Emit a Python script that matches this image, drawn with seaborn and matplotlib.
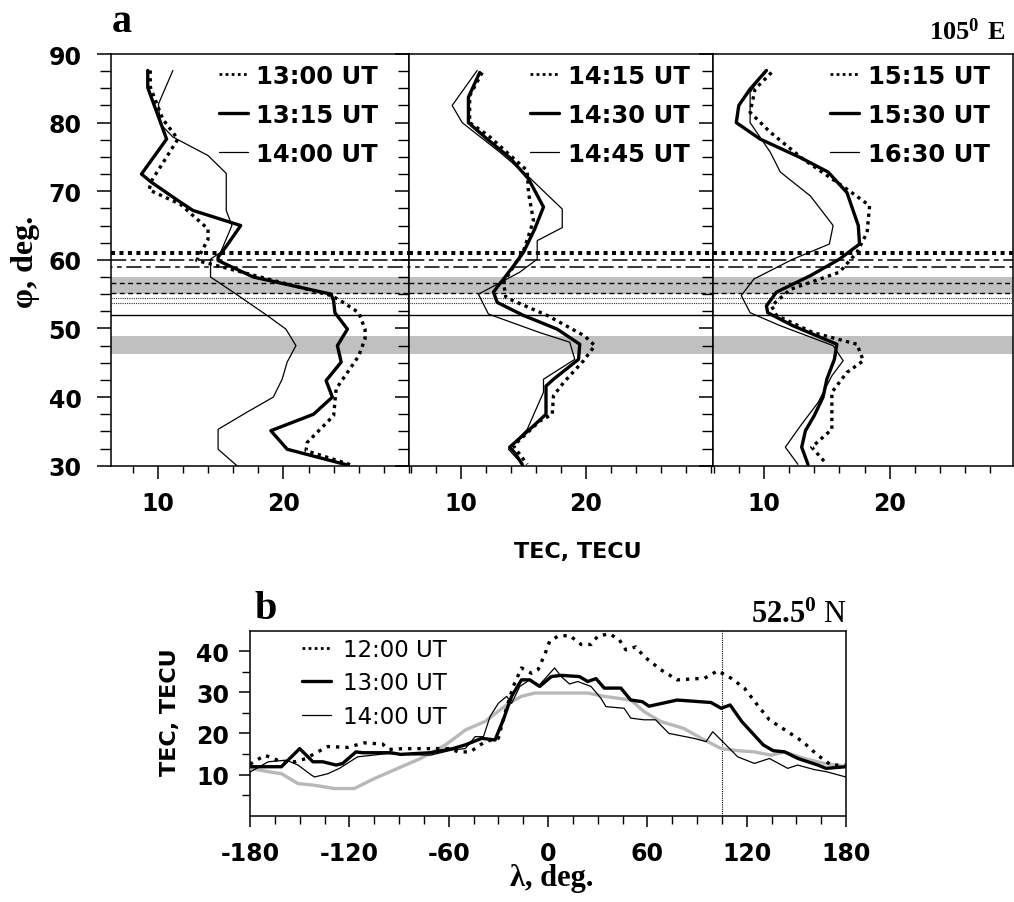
import matplotlib
matplotlib.use("Agg")
import matplotlib.pyplot as plt
from matplotlib.lines import Line2D
from matplotlib.ticker import MultipleLocator, FixedLocator
import pandas as pd
import seaborn as sns

# ---------------- data: panel a (latitude profiles of TEC along 105 E) ----------------
lat_1300 = [87.6, 85.2, 80.5, 77.6, 71.5, 70.2, 68.1, 64.5, 63.0, 59.9, 59.4, 54.8, 54.0, 52.3,
            49.9, 48.5, 46.0, 43.6, 41.2, 37.3, 33.4, 32.2, 30.0]
tec_1300 = [9.4, 9.4, 10.4, 11.6, 9.5, 9.3, 11.8, 14.0, 14.0, 13.1, 14.2, 23.8, 24.6, 26.0,
            26.5, 26.5, 26.0, 25.1, 24.2, 24.0, 21.9, 21.8, 25.6]
lat_1315 = [87.6, 85.1, 77.6, 72.5, 71.3, 68.4, 67.2, 65.0, 62.1, 60.4, 59.9, 57.5, 55.0, 54.0,
            52.3, 49.9, 47.5, 45.1, 42.4, 40.0, 37.5, 35.1, 32.4, 30.1]
tec_1315 = [9.2, 9.2, 10.7, 8.7, 9.5, 11.8, 12.8, 16.6, 15.5, 14.8, 14.8, 17.6, 23.8, 24.0,
            24.1, 25.1, 24.3, 24.6, 23.4, 23.9, 22.4, 19.0, 20.3, 25.1]
lat_1400 = [87.6, 82.7, 79.8, 77.9, 75.2, 72.6, 67.2, 65.0, 61.1, 60.1, 57.5, 55.3, 51.9, 49.9,
            47.5, 45.1, 42.6, 40.0, 37.8, 35.3, 32.4, 30.0]
tec_1400 = [11.2, 10.05, 10.2, 11.2, 14.0, 15.45, 15.45, 15.9, 15.0, 14.2, 14.2, 16.0, 18.7, 20.2,
            21.0, 20.3, 19.9, 19.2, 17.1, 14.8, 14.8, 16.3]

lat_1415 = [87.3, 83.9, 80.0, 78.1, 73.0, 69.8, 65.7, 61.3, 56.7, 54.5, 51.9, 48.9, 47.5, 45.3,
            42.1, 40.2, 37.5, 36.5, 32.9, 31.9, 30.2]
tec_1415 = [11.7, 10.7, 10.7, 12.2, 15.3, 15.4, 15.8, 15.0, 13.4, 13.6, 16.9, 19.9, 20.7, 19.8,
            18.2, 17.4, 17.3, 16.3, 14.2, 14.6, 15.3]
lat_1430 = [87.3, 83.7, 80.0, 77.6, 74.9, 71.8, 67.7, 64.5, 61.1, 59.1, 55.3, 53.8, 51.9, 49.9,
            47.7, 45.5, 42.6, 41.6, 37.5, 35.8, 32.7, 31.9, 30.2]
tec_1430 = [11.5, 10.6, 10.6, 12.1, 13.9, 15.4, 16.6, 15.9, 15.0, 14.2, 12.6, 12.9, 15.0, 17.7,
            19.5, 19.4, 17.4, 16.8, 16.8, 15.8, 13.9, 14.3, 14.9]
lat_1445 = [87.6, 82.5, 80.0, 75.7, 72.3, 67.4, 64.7, 62.8, 60.1, 58.2, 55.0, 52.1, 49.4, 48.0,
            45.5, 42.6, 40.7, 35.3, 32.4, 30.0]
tec_1445 = [11.3, 9.3, 10.1, 13.1, 15.3, 18.1, 18.1, 16.1, 16.1, 14.7, 11.4, 12.2, 16.3, 18.7,
            19.1, 16.6, 16.6, 15.3, 13.8, 15.0]

lat_1515 = [87.3, 84.9, 81.5, 78.6, 74.7, 70.3, 67.9, 64.0, 61.1, 58.2, 55.7, 53.3, 51.9, 49.4,
            47.7, 45.3, 43.6, 40.7, 35.3, 32.7, 30.2]
tec_1515 = [10.6, 9.3, 8.9, 10.5, 13.1, 16.6, 18.4, 18.2, 17.4, 16.0, 12.1, 10.6, 11.0, 13.9,
            17.4, 17.9, 16.6, 15.4, 15.4, 13.8, 15.0]
lat_1530 = [87.6, 84.9, 82.5, 80.0, 77.6, 74.9, 72.8, 69.8, 65.0, 62.3, 60.1, 57.7, 55.3, 53.3,
            52.3, 50.4, 47.7, 45.5, 42.6, 40.0, 37.3, 35.1, 32.7, 30.2]
tec_1530 = [10.2, 8.9, 8.0, 7.8, 9.7, 12.9, 15.1, 16.6, 17.5, 17.6, 16.0, 13.7, 11.0, 10.2,
            10.3, 12.3, 15.8, 15.6, 15.0, 14.7, 14.0, 13.3, 13.0, 13.5]
lat_1630 = [87.6, 84.4, 80.0, 75.7, 72.8, 69.3, 65.0, 62.3, 60.1, 57.2, 54.8, 52.3, 50.4, 47.5,
            45.3, 43.1, 39.2, 35.8, 32.7, 30.2]
tec_1630 = [10.1, 8.9, 8.9, 10.5, 11.3, 13.7, 15.5, 15.2, 12.3, 9.2, 8.2, 8.9, 11.3, 15.5,
            16.3, 15.4, 14.3, 12.9, 11.7, 12.7]

labels_a = [["13:00 UT", "13:15 UT", "14:00 UT"],
            ["14:15 UT", "14:30 UT", "14:45 UT"],
            ["15:15 UT", "15:30 UT", "16:30 UT"]]

# reference latitudes marked across panel a
band_upper = (55.0, 57.5)
band_lower = (46.3, 48.9)
lat_heavy_dot = 61.0
lat_dashdot = [60.0, 58.9]
lat_dashed = [56.6, 55.2]
lat_fine_dot = [54.4, 53.75]
lat_solid = 52.0

# ---------------- data: panel b (longitude profiles along 52.5 N) ----------------
lon_1200 = [-180, -171, -161, -153, -146, -141, -133, -121, -111, -100, -96, -87, -60, -54, -47,
            -38, -30, -26, -21, -16, -10, -6, -2, 1, 6, 13, 20, 26, 30, 37, 43, 47, 53, 58, 68,
            78, 94.5, 102.5, 110.6, 118.6, 125.7, 133.7, 144.8, 153.8, 162.9, 171, 180]
tec_1200 = [12.5, 14.7, 13.1, 13.1, 13.9, 15.1, 16.8, 16.6, 17.7, 17.4, 16.1, 16.3, 16.3, 15.5, 15.5,
            18.0, 18.8, 24.9, 31.4, 35.9, 34.6, 35.5, 39.1, 42.4, 43.6, 43.8, 41.6, 41.6, 43.6, 44.2,
            42.8, 40.3, 41.0, 38.7, 35.5, 33.0, 33.4, 35.2, 33.4, 31.0, 27.3, 23.3, 20.4, 18.0,
            14.7, 12.3, 12.3]
lon_b1300 = [-180, -161, -150, -142, -136, -128, -124, -116, -112, -95, -89, -71, -57.5, -50, -40,
             -32, -27, -22, -16, -11, -5, 2, 8, 19, 24, 29, 34, 44, 50, 57, 61, 78, 98.5, 104.6,
             110, 117, 130, 136, 143, 151, 163, 168, 180]
tec_b1300 = [11.9, 11.9, 16.3, 13.1, 13.1, 12.3, 12.7, 15.5, 15.3, 15.3, 14.9, 15.3, 16.3, 17.2, 18.8,
             18.4, 23.3, 29.0, 33.0, 33.0, 31.4, 33.8, 34.1, 33.8, 32.6, 33.3, 31.0, 31.0, 28.1,
             27.7, 26.6, 28.1, 27.5, 26.1, 26.9, 22.9, 17.2, 15.8, 15.5, 13.9, 12.3, 11.5, 11.9]
lon_b1400 = [-180, -169, -158, -151, -143, -141, -133, -126, -115, -97, -89, -71, -57.5, -50, -44,
             -39, -35, -30, -25, -22, -17, -11, -6, 4, 8, 13, 18, 26, 32, 35, 46, 50, 58, 65, 73,
             88, 95.5, 99.5, 105.5, 114.6, 124.7, 133.7, 144.8, 150.8, 160.9, 168, 180]
tec_b1400 = [10.6, 13.1, 13.5, 12.3, 9.9, 9.4, 10.2, 11.5, 14.3, 15.1, 14.9, 14.7, 16.0, 16.3, 19.2,
             19.2, 24.1, 27.3, 29.0, 27.3, 31.4, 33.0, 31.4, 35.9, 33.8, 32.0, 32.6, 31.4, 28.5,
             26.5, 26.1, 23.7, 23.3, 23.3, 20.0, 18.8, 18.0, 20.4, 18.0, 14.3, 12.7, 13.9, 11.5,
             12.3, 11.2, 10.7, 9.4]
lon_quiet = [-180, -169, -161, -151, -141, -129, -117, -105, -93, -77, -62, -57.5, -50, -38, -29,
             -22, -16, -8, 24, 34, 50, 58, 68, 82, 94.5, 104.6, 114.6, 124.7, 134.7, 142.8,
             154.8, 166.9, 180]
tec_quiet = [11.5, 10.7, 10.2, 7.8, 7.4, 6.6, 6.6, 9.0, 11.1, 13.9, 17.2, 18.5, 20.8, 22.9, 25.7,
             27.7, 29.0, 29.8, 29.8, 29.0, 28.1, 25.3, 22.9, 21.2, 18.4, 16.3, 15.8, 15.5, 14.7,
             15.5, 13.9, 12.7, 11.9]
labels_b = ["12:00 UT", "13:00 UT", "14:00 UT"]
lon_marker = 105

# ---------------- styling ----------------
sns.set_theme(style="ticks")
plt.rcParams["font.family"] = ["DejaVu Sans"]
plt.rcParams["mathtext.fontset"] = "custom"
plt.rcParams["mathtext.rm"] = "Liberation Serif"
plt.rcParams["mathtext.bf"] = "Liberation Serif:bold"
plt.rcParams["axes.unicode_minus"] = False
plt.rcParams["text.color"] = "black"
plt.rcParams["axes.labelcolor"] = "black"
plt.rcParams["axes.edgecolor"] = "black"
plt.rcParams["axes.linewidth"] = 1.1
plt.rcParams["xtick.color"] = "black"
plt.rcParams["ytick.color"] = "black"
plt.rcParams["xtick.labelcolor"] = "black"
plt.rcParams["ytick.labelcolor"] = "black"

DOT = dict(color="black", lw=2.4, linestyle=(0, (1, 1.3)))
THICK = dict(color="black", lw=2.4, linestyle="-")
THIN = dict(color="black", lw=0.9, linestyle="-")
styles = [DOT, THICK, THIN]
SERIF = "Liberation Serif"

W, H = 1014, 903
fig = plt.figure(figsize=(W / 100, H / 100), dpi=100)


def box(x0, y0, x1, y1):
    return [x0 / W, 1 - y1 / H, (x1 - x0) / W, (y1 - y0) / H]


edges = [110.7, 409, 713, 1013]
xlims = [(6.25, 30.0), (5.85, 30.15), (5.95, 29.8)]
profiles = [
    [(tec_1300, lat_1300), (tec_1315, lat_1315), (tec_1400, lat_1400)],
    [(tec_1415, lat_1415), (tec_1430, lat_1430), (tec_1445, lat_1445)],
    [(tec_1515, lat_1515), (tec_1530, lat_1530), (tec_1630, lat_1630)],
]
legend_x = [0.93, 0.955, 0.955]

for i in range(3):
    ax = fig.add_axes(box(edges[i], 55, edges[i + 1], 466.7))
    # marked latitudes
    ax.axhspan(*band_upper, color="#c0c0c0", lw=0, zorder=0)
    ax.axhspan(*band_lower, color="#c0c0c0", lw=0, zorder=0)
    ax.axhline(lat_heavy_dot, color="black", lw=2.9, linestyle=(0, (1, 1.1)),
               dash_capstyle="butt", zorder=3)
    ax.axhline(lat_dashdot[0], color="black", lw=1.1, linestyle=(0, (10, 3, 3, 3)), zorder=3)
    ax.axhline(lat_dashdot[1], color="black", lw=1.1, linestyle=(9, (10, 3, 3, 3)), zorder=3)
    for lv in lat_dashed:
        ax.axhline(lv, color="black", lw=1.0, linestyle=(0, (3.5, 2.5)), zorder=3)
    for lv in lat_fine_dot:
        ax.axhline(lv, color="#333333", lw=0.8, linestyle=(0, (1, 1)), zorder=3)
    ax.axhline(lat_solid, color="black", lw=1.0, zorder=3)

    for (tec, lat), st in zip(profiles[i], styles):
        df = pd.DataFrame({"tec": tec, "lat": lat})
        sns.lineplot(data=df, x="tec", y="lat", orient="y", estimator=None, sort=False,
                     ax=ax, zorder=4, **st)

    ax.set_xlim(*xlims[i])
    ax.set_ylim(30, 90)
    ax.xaxis.set_major_locator(FixedLocator([10, 20]))
    ax.xaxis.set_minor_locator(MultipleLocator(2))
    ax.yaxis.set_major_locator(MultipleLocator(10))
    ax.yaxis.set_minor_locator(MultipleLocator(2.5))
    ax.tick_params(axis="x", which="major", direction="out", length=9, width=1.1, pad=9,
                   labelsize=17)
    ax.tick_params(axis="x", which="minor", direction="out", length=5, width=1.0)
    ax.tick_params(axis="y", which="major", direction="out", length=10, width=1.1, pad=11,
                   labelsize=17)
    ax.tick_params(axis="y", which="minor", direction="out", length=8, width=1.0)
    for t in ax.get_xticklabels() + ax.get_yticklabels():
        t.set_fontweight("bold")
    if i > 0:
        ax.tick_params(axis="y", labelleft=False)
    ax.set_xlabel("")
    ax.set_ylabel("")

    handles = [Line2D([], [], color="black", lw=2.0, linestyle=(0, (1, 1.2))),
               Line2D([], [], **THICK), Line2D([], [], **THIN)]
    ax.legend(handles, labels_a[i], loc="upper right", bbox_to_anchor=(legend_x[i], 1.0),
              frameon=False, prop=dict(size=17.5, weight="bold"), handlelength=1.2,
              handletextpad=0.35, labelspacing=0.62, borderaxespad=0.2, borderpad=0.2)

fig.text(112 / W, 1 - 32 / H, "a", family=SERIF, weight="bold", size=29, va="baseline")
fig.text(1005 / W, 1 - 40 / H, r"$\mathbf{105^{0}\ E}$", family=SERIF, size=19,
         ha="right", va="baseline")
fig.text(26 / W, 1 - 262 / H, "φ, deg.", family=SERIF, weight="bold", size=23,
         rotation=90, ha="center", va="center")
fig.text(578 / W, 1 - 552 / H, "TEC, TECU", weight="bold", size=16, ha="center", va="center")

# ---------------- panel b ----------------
axb = fig.add_axes(box(250, 632.3, 846, 816.7))
axb.axvline(lon_marker, color="black", lw=0.8, linestyle=(0, (1, 1)), zorder=2)
sns.lineplot(x=lon_quiet, y=tec_quiet, estimator=None, sort=False, ax=axb,
             color="#b8b8b8", lw=2.4, zorder=3)
b_series = [(lon_1200, tec_1200), (lon_b1300, tec_b1300), (lon_b1400, tec_b1400)]
b_styles = [dict(color="black", lw=2.4, linestyle=(0, (1, 1.8))), THICK, THIN]
for (lon, tec), st in zip(b_series, b_styles):
    sns.lineplot(x=lon, y=tec, estimator=None, sort=False, ax=axb, zorder=4, **st)

axb.set_xlim(-180, 180)
axb.set_ylim(0, 44.8)
axb.xaxis.set_major_locator(MultipleLocator(60))
axb.xaxis.set_minor_locator(MultipleLocator(15))
axb.yaxis.set_major_locator(FixedLocator([10, 20, 30, 40]))
axb.yaxis.set_minor_locator(FixedLocator([5, 15, 25, 35]))
axb.tick_params(axis="both", which="major", direction="out", length=8, width=1.1,
                labelsize=17)
axb.tick_params(axis="x", which="major", pad=10)
axb.tick_params(axis="y", which="major", pad=7)
axb.tick_params(axis="both", which="minor", direction="out", length=6, width=1.0)
for t in axb.get_xticklabels() + axb.get_yticklabels():
    t.set_fontweight("bold")
axb.set_xlabel("")
axb.set_ylabel("")

hb = [Line2D([], [], color="black", lw=2.0, linestyle=(0, (1, 1.2))),
      Line2D([], [], **THICK), Line2D([], [], **THIN)]
axb.legend(hb, labels_b, loc="upper left", bbox_to_anchor=(0.075, 1.0), frameon=False,
           prop=dict(size=16.5), handlelength=1.3, handletextpad=0.5, labelspacing=0.45,
           borderaxespad=0.1, borderpad=0.2)

fig.text(255 / W, 1 - 619 / H, "b", family=SERIF, weight="bold", size=29, va="baseline")
fig.text(847 / W, 1 - 623 / H, r"$\mathbf{52.5^{0}}$ N", family=SERIF, size=22,
         ha="right", va="baseline")
fig.text(170 / W, 1 - 712 / H, "TEC, TECU", weight="bold", size=16, rotation=90,
         ha="center", va="center")
fig.text(552 / W, 1 - 879 / H, "λ, deg.", family=SERIF, weight="bold", size=22,
         ha="center", va="center")

fig.savefig("out.png", dpi=100)
